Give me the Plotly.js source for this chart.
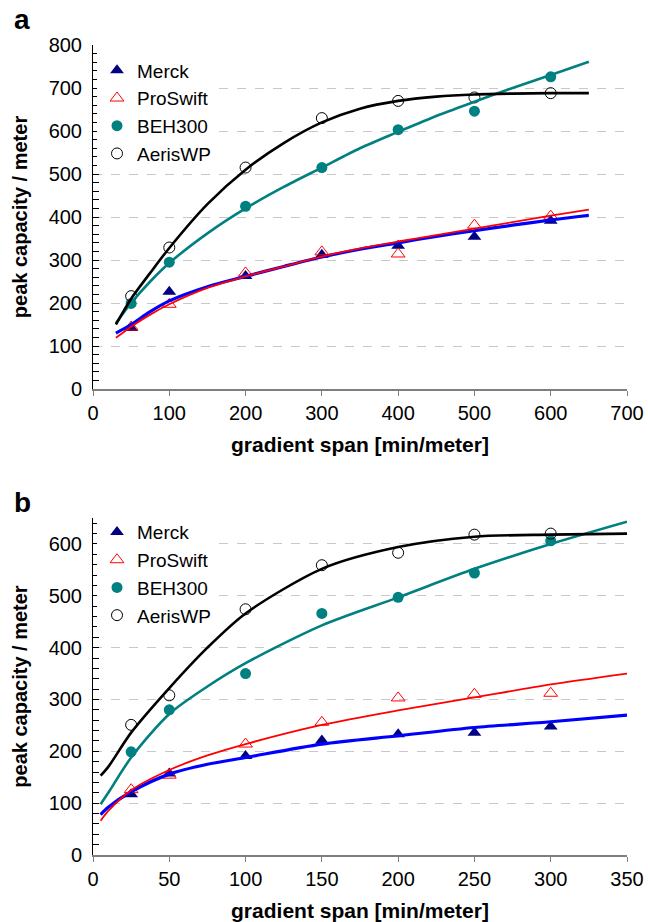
<!DOCTYPE html>
<html><head><meta charset="utf-8">
<script src="https://cdn.plot.ly/plotly-3.0.1.min.js"></script>
<style>html,body{margin:0;padding:0;background:#fff}</style>
</head><body><div id="chart" style="width:648px;height:922px"></div>
<script>
const seriesNames = ['Merck', 'ProSwift', 'BEH300', 'AerisWP'];

// Panel a: measured points
const aX = [50, 100, 200, 300, 400, 500, 600];
const aMerck = [142, 226, 263, 312, 333, 354, 391];
const aProSwift = [144, 197, 270, 319, 314, 381, 402];
const aBEH = [199, 295, 425, 515, 603, 646, 726];
const aAeris = [216, 329, 515, 630, 670, 678, 688];
// Panel a: fitted curves
const aFitX = [30, 50, 75, 100, 150, 200, 250, 300, 350, 400, 450, 500, 550, 600, 650];
const aFitMerck = [130, 150, 180, 205, 238, 262, 285, 307, 325, 340, 355, 368, 381, 393, 404];
const aFitProSwift = [119, 145, 173, 197, 235, 262, 285, 308, 327, 343, 358, 373, 388, 403, 417];
const aFitBEH = [153, 200, 250, 293, 362, 420, 470, 515, 560, 598, 635, 668, 700, 730, 761];
const aFitAeris = [150, 210, 270, 328, 430, 510, 572, 620, 652, 670, 680, 685, 687, 688, 688];

// Panel b: measured points
const bX = [25, 50, 100, 150, 200, 250, 300];
const bMerck = [117, 157, 191, 221, 233, 236, 248];
const bProSwift = [126, 154, 214, 256, 303, 310, 312];
const bBEH = [199, 280, 350, 466, 497, 544, 606];
const bAeris = [251, 308, 474, 559, 583, 618, 620];
// Panel b: fitted curves
const bFitX = [5, 10, 25, 50, 75, 100, 150, 200, 250, 300, 350];
const bFitMerck = [78, 92, 122, 156, 175, 188, 214, 230, 246, 257, 270];
const bFitProSwift = [66, 85, 125, 164, 192, 214, 251, 279, 304, 329, 350];
const bFitBEH = [98, 120, 188, 272, 325, 370, 443, 497, 552, 600, 643];
const bFitAeris = [153, 170, 236, 322, 400, 466, 552, 594, 614, 618, 620];

const markerStyles = [
  {symbol: 'triangle-up', color: '#000080', size: 12},
  {symbol: 'triangle-up-open', color: '#FF0000', size: 12, line: {color: '#FF0000', width: 1}},
  {symbol: 'circle', color: '#008080', size: 11},
  {symbol: 'circle-open', color: '#000000', size: 11, line: {color: '#000000', width: 1}}
];
const lineStyles = [
  {color: '#0000FF', width: 3.2},
  {color: '#FF0000', width: 1.8},
  {color: '#008080', width: 2.6},
  {color: '#000000', width: 2.6}
];

function pointTraces(x, ys, xa, ya, legend) {
  return ys.map((y, i) => ({
    type: 'scatter', mode: 'markers', name: seriesNames[i], x: x, y: y,
    xaxis: xa, yaxis: ya, legend: legend, marker: markerStyles[i], cliponaxis: false
  }));
}
function fitTraces(x, ys, xa, ya) {
  return ys.map((y, i) => ({
    type: 'scatter', mode: 'lines', name: seriesNames[i] + ' fit', x: x, y: y,
    xaxis: xa, yaxis: ya, showlegend: false, line: Object.assign({shape: 'spline', smoothing: 0.8}, lineStyles[i])
  }));
}

const traces = [].concat(
  pointTraces(aX, [aMerck, aProSwift, aBEH, aAeris], 'x', 'y', 'legend'),
  pointTraces(bX, [bMerck, bProSwift, bBEH, bAeris], 'x2', 'y2', 'legend2'),
  fitTraces(aFitX, [aFitMerck, aFitProSwift, aFitBEH, aFitAeris], 'x', 'y'),
  fitTraces(bFitX, [bFitMerck, bFitProSwift, bFitBEH, bFitAeris], 'x2', 'y2')
);

const FONT = 'Liberation Sans, Arial, Helvetica, sans-serif';
function xAxis(range, dtick, anchor) {
  return {
    anchor: anchor, domain: [0, 1], range: range, dtick: dtick, tick0: 0,
    ticks: 'outside', ticklen: 5, tickcolor: '#7f7f7f', tickwidth: 1,
    showline: true, linecolor: '#7f7f7f', linewidth: 1.5,
    showgrid: false, zeroline: false, fixedrange: true,
    tickfont: {size: 20, family: FONT, color: '#000'},
    title: {text: '<b>gradient span [min/meter]</b>', font: {size: 21, family: FONT, color: '#000'}, standoff: 15}
  };
}
function yAxis(range, domain, anchor) {
  return {
    anchor: anchor, domain: domain, range: range, dtick: 100, tick0: 0,
    ticks: 'inside', ticklen: 6, tickcolor: '#000', tickwidth: 1,
    showline: true, linecolor: '#000', linewidth: 1,
    showgrid: true, gridcolor: '#c8c8c8', griddash: 'dash', gridwidth: 1,
    zeroline: false, fixedrange: true,
    minor: {dtick: 20, tick0: 0, ticks: 'inside', ticklen: 6, tickcolor: '#000', tickwidth: 1, showgrid: false},
    tickfont: {size: 20, family: FONT, color: '#000'},
    ticklabelstandoff: 6,
    title: {text: '<b>peak capacity / meter</b>', font: {size: 20, family: FONT, color: '#000'}, standoff: 15}
  };
}

const legendBase = {
  xref: 'paper', yref: 'paper', x: 0.0075, xanchor: 'left', yanchor: 'top',
  bgcolor: '#ffffff', borderwidth: 0, itemwidth: 30,
  font: {size: 19, family: FONT, color: '#000'}
};

const layout = {
  width: 648, height: 922,
  margin: {l: 93, r: 21, t: 45, b: 67},
  paper_bgcolor: '#ffffff', plot_bgcolor: '#ffffff',
  font: {family: FONT, size: 20, color: '#000'},
  showlegend: true,
  xaxis: xAxis([0, 700], 100, 'y'),
  yaxis: yAxis([0, 800], [0.5753, 1], 'x'),
  xaxis2: xAxis([0, 350], 50, 'y2'),
  yaxis2: yAxis([0, 650], [0, 0.416], 'x2'),
  legend: Object.assign({}, legendBase, {y: 0.992}),
  legend2: Object.assign({}, legendBase, {y: 0.422}),
  annotations: [
    {text: '<b>a</b>', xref: 'paper', yref: 'paper', x: -0.1517, y: 1.0309, xanchor: 'left', yanchor: 'middle', showarrow: false, font: {size: 28, family: FONT, color: '#000'}},
    {text: '<b>b</b>', xref: 'paper', yref: 'paper', x: -0.1517, y: 0.4346, xanchor: 'left', yanchor: 'middle', showarrow: false, font: {size: 28, family: FONT, color: '#000'}}
  ]
};

Plotly.newPlot('chart', traces, layout, {displayModeBar: false, staticPlot: true});
</script>
</body></html>
